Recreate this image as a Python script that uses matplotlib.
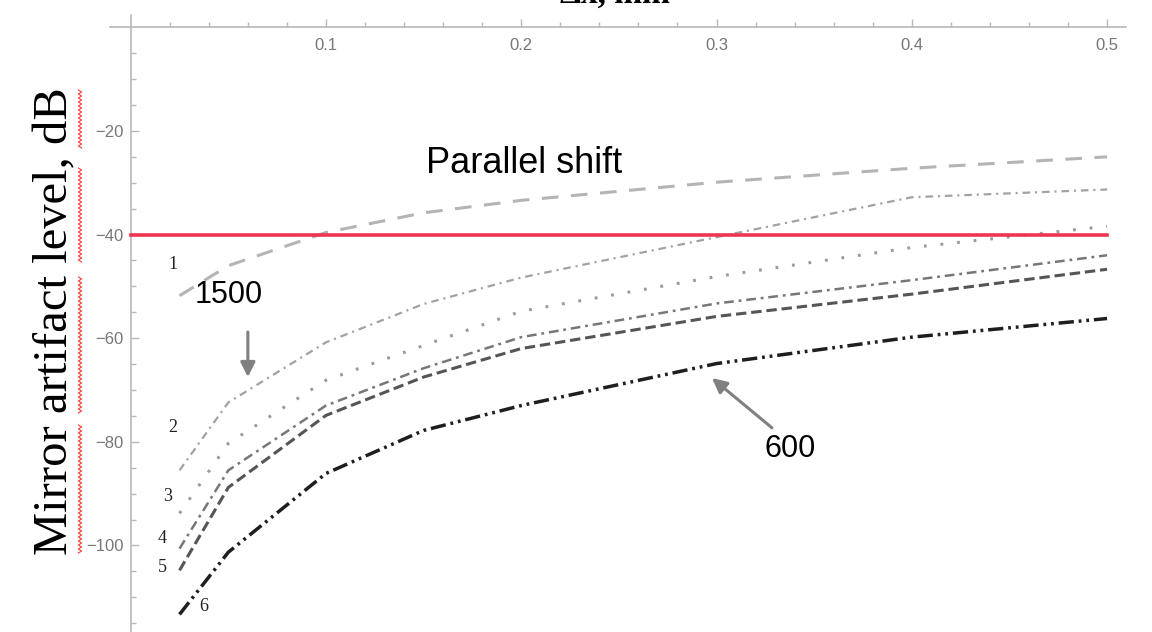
import numpy as np
import matplotlib
matplotlib.use("Agg")
import matplotlib.pyplot as plt
from matplotlib.lines import Line2D

plt.rcParams["lines.scale_dashes"] = False

# ───────────────────────────────
# Data
# ───────────────────────────────
shift_mm = [0.025, 0.05, 0.1, 0.15, 0.2, 0.3, 0.4, 0.5]

curve_1 = [-51.8, -46.0, -39.6, -35.8, -33.4, -29.9, -27.2, -25.0]
curve_2 = [-85.5, -72.4, -60.8, -53.4, -48.3, -40.5, -32.8, -31.3]
curve_3 = [-93.8, -80.3, -68.1, -61.4, -54.8, -48.1, -42.5, -38.4]
curve_4 = [-100.6, -85.5, -73.0, -65.8, -59.8, -53.3, -48.8, -44.0]
curve_5 = [-104.8, -88.8, -74.9, -67.5, -62.0, -55.8, -51.5, -46.7]
curve_6 = [-113.3, -101.3, -86.1, -77.8, -73.0, -64.9, -59.8, -56.2]

threshold_db = -40
threshold_x = [0.0, 0.5]

x_major = [0.1, 0.2, 0.3, 0.4, 0.5]
x_major_labels = ["0.1", "0.2", "0.3", "0.4", "0.5"]
y_major = [-100, -80, -60, -40, -20]

W, H = 1152, 632


def fx(px):
    return px / W


def fy(py):
    return 1 - py / H


fig = plt.figure(figsize=(W / 100, H / 100), dpi=100)
ax = fig.add_axes([fx(110), 0, fx(1126) - fx(110), fy(15)])
ax.set_xlim(-0.0106, 0.5097)
ax.set_ylim(-116.7, 2.37)

# Mathematica-like axes crossing at origin
for side in ("top", "right"):
    ax.spines[side].set_visible(False)
ax.spines["left"].set_position(("data", 0))
ax.spines["bottom"].set_position(("data", 0))
for side in ("left", "bottom"):
    ax.spines[side].set_color("#b8b8b8")
    ax.spines[side].set_linewidth(1.2)

ax.set_xticks(x_major)
ax.set_xticklabels(x_major_labels)
ax.set_xticks([v for v in np.arange(0.02, 0.51, 0.02) if abs(v * 10 - round(v * 10)) > 1e-6], minor=True)
ax.set_yticks(y_major)
ax.set_yticks([v for v in range(-115, 0, 5) if v % 20 != 0], minor=True)

ax.tick_params(axis="both", which="both", direction="in", color="#b8b8b8", width=1.0,
               labelcolor="#777777", labelsize=12)
ax.tick_params(axis="both", which="major", length=6)
ax.tick_params(axis="both", which="minor", length=3.5)
ax.tick_params(axis="x", pad=8)
ax.tick_params(axis="y", pad=5)
for lab in ax.get_xticklabels() + ax.get_yticklabels():
    lab.set_family("Liberation Sans")

# threshold line
ax.plot(threshold_x, [threshold_db, threshold_db], color="#ee3552", lw=2.6, zorder=3)

# curves
ax.plot(shift_mm, curve_1, color="#b4b4b4", lw=2.2, ls=(0, (12, 9)))
ax.plot(shift_mm, curve_2, color="#a2a2a2", lw=1.6, ls=(0, (5.5, 3.5, 1.5, 3.5)))
ax.plot(shift_mm, curve_3, color="#9a9a9a", lw=2.2, ls=(0, (2, 10)))
ax.plot(shift_mm, curve_4, color="#777777", lw=1.8, ls=(0, (7, 3.5, 2, 3.5)))
ax.plot(shift_mm, curve_5, color="#555555", lw=2.2, ls=(0, (7.5, 3.5)))
ax.plot(shift_mm, curve_6, color="#1e1e1e", lw=2.5, ls=(0, (11, 3.5, 2, 3.5, 2, 3.5)))

# curve numbers
num_pos = [(0.0216, -45.7), (0.0216, -77.2), (0.0191, -90.5),
           (0.0160, -98.6), (0.0160, -104.2), (0.0376, -111.7)]
for i, (x, y) in enumerate(num_pos, start=1):
    ax.text(x, y, str(i), family="Liberation Serif", fontsize=13, color="#222222",
            ha="center", va="center")

ax.text(0.2014, -26.2, "Parallel shift", family="Liberation Sans", fontsize=26,
        color="black", ha="center", va="center")
ax.text(0.0503, -51.7, "1500", family="Liberation Sans", fontsize=22,
        color="black", ha="center", va="center")
ax.text(0.3377, -81.4, "600", family="Liberation Sans", fontsize=22,
        color="black", ha="center", va="center")

arrow = dict(arrowstyle="-|>", color="#808080", lw=2.2, mutation_scale=22,
             shrinkA=0, shrinkB=0)
ax.annotate("", xy=(0.060, -67.5), xytext=(0.060, -58.8), arrowprops=arrow)
ax.annotate("", xy=(0.2977, -67.7), xytext=(0.3284, -77.3), arrowprops=arrow)

# y label with the spell-check squiggles
fig.text(fx(55), fy(321), "Mirror artifact level, dB", family="Liberation Serif",
         fontsize=35, rotation=90, ha="center", va="center", color="black")
for top, bot in [(90, 148), (168, 263), (277, 413), (425, 553)]:
    ys = np.arange(top, bot + 1, 2.0)
    xs = 80 + np.where(np.arange(len(ys)) % 2 == 0, -1.6, 1.6)
    fig.add_artist(Line2D(fx(xs), fy(ys), color="#ff3a3a", lw=0.8))

# axis title, cut by the top edge just like in the source image
fig.text(fx(615), fy(3), "Δx, mm", family="Liberation Serif", fontsize=24,
         fontweight="bold", ha="center", va="baseline", color="black")

fig.savefig("out.png", dpi=100)
